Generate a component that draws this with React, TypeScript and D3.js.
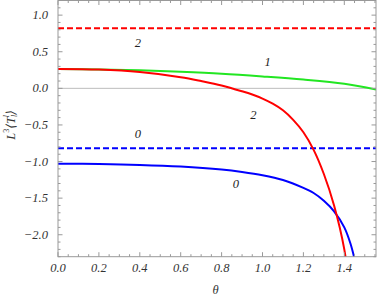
import { scaleLinear, line, curveCatmullRom, range } from "d3";

const W = 382;
const H = 300;
const margin = { top: 0.5, right: 6, bottom: 43.3, left: 58 };

const xTicks = [0.0, 0.2, 0.4, 0.6, 0.8, 1.0, 1.2, 1.4];
const yTicks = [1.0, 0.5, 0.0, -0.5, -1.0, -1.5, -2.0];

// l = 1 (green)
const greenTheta = [0, 0.2, 0.4, 0.6, 0.8, 1.0, 1.2, 1.4, 1.555];
const greenVal = [0.265, 0.259, 0.246, 0.226, 0.2, 0.163, 0.12, 0.062, -0.015];

// l = 2 (red)
const redTheta = [0, 0.2, 0.4, 0.6, 0.7, 0.8, 0.9, 0.95, 1.0, 1.05, 1.1, 1.15, 1.2, 1.25, 1.3, 1.35, 1.4, 1.43];
const redVal = [0.265, 0.256, 0.222, 0.152, 0.1, 0.04, -0.04, -0.085, -0.14, -0.21, -0.3, -0.43, -0.6, -0.84, -1.17, -1.6, -2.2, -2.85];

// l = 0 (blue)
const blueTheta = [0, 0.2, 0.4, 0.6, 0.8, 0.9, 1.0, 1.1, 1.2, 1.25, 1.3, 1.35, 1.4, 1.43, 1.45, 1.47];
const blueVal = [-1.03, -1.034, -1.046, -1.069, -1.11, -1.143, -1.187, -1.252, -1.36, -1.43, -1.536, -1.68, -1.9, -2.12, -2.33, -2.6];

// dashed asymptotes
const dashedRed = 0.82;
const dashedBlue = -0.82;

const curveLabels = [
  { t: "2", x: 0.39, y: 0.62 },
  { t: "1", x: 1.025, y: 0.36 },
  { t: "2", x: 0.955, y: -0.36 },
  { t: "0", x: 0.39, y: -0.62 },
  { t: "0", x: 0.87, y: -1.3 },
];

const App = () => {
  const innerWidth = W - margin.left - margin.right;
  const innerHeight = H - margin.top - margin.bottom;
  const xScale = scaleLinear().domain([0, 1.555]).range([0, innerWidth]);
  const yScale = scaleLinear().domain([-2.3, 1.2]).range([innerHeight, 0]);

  const lineGen = line<[number, number]>()
    .x((d) => xScale(d[0]))
    .y((d) => yScale(d[1]))
    .curve(curveCatmullRom.alpha(0.5));

  const zip = (a: number[], b: number[]) => a.map((v, i) => [v, b[i]] as [number, number]);

  const xMinor = range(0, 1.555, 0.05);
  const yMinor = range(-2.3, 1.2001, 0.1).map((v) => Math.round(v * 10) / 10);
  const frame = "#999";
  const tickFont = {
    fontFamily: "Liberation Serif, Times New Roman, DejaVu Serif, serif",
    fontStyle: "italic",
    fontSize: 12.5,
    fill: "#333",
  } as const;

  return (
    <svg width={W} height={H} style={{ position: "fixed", left: 0, top: 0, background: "white" }}>
      <defs>
        <clipPath id="plot">
          <rect x={0} y={0} width={innerWidth} height={innerHeight} />
        </clipPath>
      </defs>
      <g transform={`translate(${margin.left},${margin.top})`}>
        {/* zero axis */}
        <line x1={0} x2={innerWidth} y1={yScale(0)} y2={yScale(0)} stroke="#aaa" strokeWidth={0.8} />

        <g clipPath="url(#plot)">
          <line x1={0} x2={innerWidth} y1={yScale(dashedRed)} y2={yScale(dashedRed)} stroke="#ff0000" strokeWidth={2} strokeDasharray="6,3" />
          <line x1={0} x2={innerWidth} y1={yScale(dashedBlue)} y2={yScale(dashedBlue)} stroke="#0000ff" strokeWidth={2} strokeDasharray="6,3" />
          <path d={lineGen(zip(greenTheta, greenVal)) || ""} fill="none" stroke="#22e622" strokeWidth={2} />
          <path d={lineGen(zip(blueTheta, blueVal)) || ""} fill="none" stroke="#0000ff" strokeWidth={2} />
          <path d={lineGen(zip(redTheta, redVal)) || ""} fill="none" stroke="#ff0000" strokeWidth={2} />
        </g>

        {curveLabels.map((l, i) => (
          <text key={i} x={xScale(l.x)} y={yScale(l.y)} textAnchor="middle" dominantBaseline="central" {...tickFont} fill="#222">
            {l.t}
          </text>
        ))}

        {/* frame */}
        <rect x={0} y={0} width={innerWidth} height={innerHeight} fill="none" stroke={frame} strokeWidth={1} />

        {xMinor.map((v, i) => {
          const major = i % 4 === 0;
          const len = major ? 4.5 : 2.5;
          return (
            <g key={i} transform={`translate(${xScale(v)},0)`}>
              <line y1={innerHeight} y2={innerHeight - len} stroke={frame} />
              <line y1={0} y2={len} stroke={frame} />
            </g>
          );
        })}
        {yMinor.map((v, i) => {
          const major = Math.abs(v * 2 - Math.round(v * 2)) < 1e-6;
          const len = major ? 4.5 : 2.5;
          return (
            <g key={i} transform={`translate(0,${yScale(v)})`}>
              <line x1={0} x2={len} stroke={frame} />
              <line x1={innerWidth} x2={innerWidth - len} stroke={frame} />
            </g>
          );
        })}

        {xTicks.map((v, i) => (
          <text key={i} x={xScale(v)} y={innerHeight + 15} textAnchor="middle" {...tickFont}>
            {v.toFixed(1)}
          </text>
        ))}
        {yTicks.map((v, i) => (
          <text key={i} x={-10} y={yScale(v)} textAnchor="end" dominantBaseline="central" {...tickFont}>
            {v < 0 ? "\u2212" + Math.abs(v).toFixed(1) : v.toFixed(1)}
          </text>
        ))}

        <text x={xScale(0.77)} y={innerHeight + 37} textAnchor="middle" {...tickFont}>
          θ
        </text>
        <text
          transform={`translate(-47,${yScale(-0.5)}) rotate(-90)`}
          textAnchor="middle"
          dominantBaseline="central"
          {...tickFont}
        >
          L<tspan fontSize={8} dy={-5} fontStyle="normal">3</tspan>
          <tspan dy={5}>⟨T</tspan>
          <tspan fontSize={8} dy={3}>l</tspan>
          <tspan fontSize={8} dx={-2.5} dy={-8}>l</tspan>
          <tspan dy={5}>⟩</tspan>
        </text>
      </g>
    </svg>
  );
};

export default App;
